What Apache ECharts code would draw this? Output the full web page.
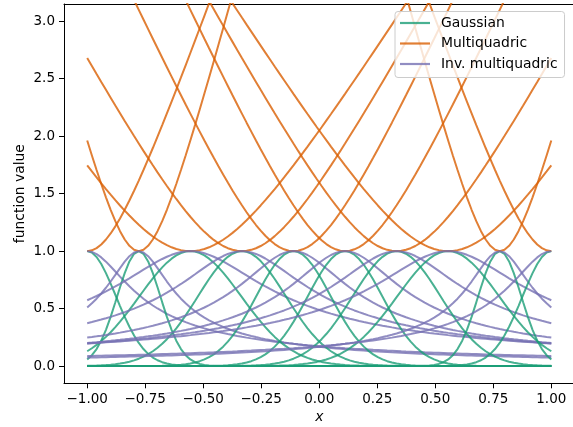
<!DOCTYPE html>
<html>
<head>
<meta charset="utf-8">
<script src="https://cdn.jsdelivr.net/npm/echarts@6/dist/echarts.min.js"></script>
<style>
  html, body { margin: 0; padding: 0; background: #fff; }
  #chart { width: 573px; height: 427px; }
</style>
</head>
<body>
<div id="chart"></div>
<script>
// ---- Values ----
// RBF centres (positions of the peaks / minima at value 1)
const centers = [-1, -0.7778, -0.5556, -0.3333, -0.1111, 0.1111, 0.3333, 0.5556, 0.7778, 1];
// shape parameter (epsilon) of each centre, estimated from curve widths/slopes
const shapeParams = [5.7, 7.6, 3.22, 3.73, 4.4, 4.4, 3.73, 3.22, 7.6, 5.7];
const seriesNames = ['Gaussian', 'Multiquadric', 'Inv. multiquadric'];
const seriesColors = ['#1b9e77', '#d95f02', '#7570b3'];
const xTicks = [-1, -0.75, -0.5, -0.25, 0, 0.25, 0.5, 0.75, 1];
const yTicks = [0, 0.5, 1, 1.5, 2, 2.5, 3];
const xRange = [-1, 1];
const nSamples = 100;

// ---- Named basis functions (as in the legend) ----
const basis = [
  (e, r) => Math.exp(-(e * r) * (e * r)),
  (e, r) => Math.sqrt(1 + (e * r) * (e * r)),
  (e, r) => 1 / Math.sqrt(1 + (e * r) * (e * r))
];

const xs = [];
for (let i = 0; i < nSamples; i++) xs.push(xRange[0] + (xRange[1] - xRange[0]) * i / (nSamples - 1));

const series = [];
centers.forEach((c, k) => {
  const e = shapeParams[k];
  basis.forEach((f, j) => {
    series.push({
      type: 'line',
      name: seriesNames[j],
      xAxisIndex: 0,
      data: xs.map(x => [x, f(e, Math.abs(x - c))]),
      showSymbol: false,
      symbol: 'none',
      silent: true,
      animation: false,
      clip: true,
      color: seriesColors[j],
      itemStyle: { color: seriesColors[j] },
      lineStyle: { color: seriesColors[j], width: 2, opacity: 0.8 }
    });
  });
});

function fmt(v, d) {
  const s = Math.abs(v).toFixed(d);
  return (v < -1e-9 ? '\u2212' : '') + s;
}

const FONT = 'DejaVu Sans';
const chart = echarts.init(document.getElementById('chart'), null, { renderer: 'canvas' });
chart.setOption({
  animation: false,
  backgroundColor: '#ffffff',
  textStyle: { fontFamily: FONT },
  grid: {
    left: 64, top: 4, right: -1.5, bottom: 43.7,
    outerBoundsMode: 'none', containLabel: false, show: false
  },
  xAxis: [{
    type: 'value', min: -1.1, max: 1.1, position: 'bottom',
    name: 'x', nameLocation: 'middle', nameGap: 27, nameMoveOverlap: false,
    nameTextStyle: { fontStyle: 'italic', fontSize: 13.9, color: '#000', fontFamily: FONT },
    axisLine: { show: true, onZero: false, lineStyle: { color: '#000', width: 1 } },
    axisTick: { show: true, inside: false, length: 5, lineStyle: { color: '#000', width: 1 }, customValues: xTicks },
    axisLabel: { show: true, margin: 9, fontSize: 13.5, color: '#000', fontFamily: FONT,
      customValues: xTicks, formatter: v => fmt(v, 2) },
    splitLine: { show: false }
  }, {
    type: 'value', min: -1.1, max: 1.1, position: 'top',
    axisLine: { show: true, onZero: false, lineStyle: { color: '#000', width: 1 } },
    axisTick: { show: false }, axisLabel: { show: false }, splitLine: { show: false }
  }],
  yAxis: {
    type: 'value', min: -0.15, max: 3.15,
    name: 'function value', nameLocation: 'middle', nameGap: 37, nameMoveOverlap: false,
    nameTextStyle: { fontSize: 13.9, color: '#000', fontFamily: FONT },
    axisLine: { show: true, onZero: false, lineStyle: { color: '#000', width: 1 } },
    axisTick: { show: true, inside: false, length: 5, lineStyle: { color: '#000', width: 1 }, customValues: yTicks },
    axisLabel: { show: true, margin: 9, fontSize: 13.5, color: '#000', fontFamily: FONT,
      customValues: yTicks, formatter: v => fmt(v, 1) },
    splitLine: { show: false }
  },
  legend: {
    data: seriesNames,
    orient: 'vertical',
    left: 395, top: 11.5,
    padding: [4.5, 7, 6.5, 5],
    itemWidth: 30, itemHeight: 2.2, itemGap: 6.5,
    icon: 'rect',
    itemStyle: { opacity: 0.8 },
    backgroundColor: 'rgba(255,255,255,0.8)',
    borderColor: '#cccccc', borderWidth: 1, borderRadius: 3,
    textStyle: { fontSize: 13.9, color: '#000', fontFamily: FONT, lineHeight: 14, padding: [0, 0, 0, 6] },
    selectedMode: false
  },
  series: series
});
</script>
</body>
</html>
